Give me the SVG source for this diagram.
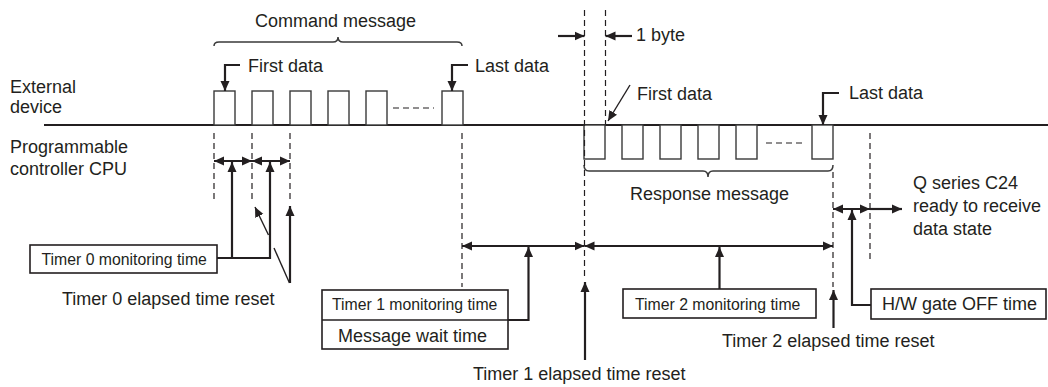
<svg xmlns="http://www.w3.org/2000/svg" width="1048" height="387" viewBox="0 0 1048 387">
<style>
text{font-family:"Liberation Sans",Arial,sans-serif;fill:#231f20;font-size:18px}
.s{font-size:15.8px}
.base{stroke:#231f20;stroke-width:2.2;fill:none}
.pulse{stroke:#3a3a3a;stroke-width:1.4;fill:#fff}
.dash{stroke:#231f20;stroke-width:1.2;stroke-dasharray:6,4;fill:none}
.arr{stroke:#231f20;stroke-width:2.2;fill:none}
.thin{stroke:#231f20;stroke-width:1.4;fill:none}
.box{stroke:#231f20;stroke-width:1.6;fill:#fff}
.brace{stroke:#3a3a3a;stroke-width:1.5;fill:none}
</style>
<defs>
<marker id="ah" viewBox="0 0 10 10" refX="10" refY="5" markerWidth="10" markerHeight="10" markerUnits="userSpaceOnUse" orient="auto-start-reverse">
<path d="M0,0.5 L10,5 L0,9.5 z" fill="#231f20"/>
</marker>
</defs>

<g id="labels-left">
<text x="10" y="93">External</text>
<text x="10" y="113">device</text>
<text x="10" y="153">Programmable</text>
<text x="10" y="175">controller CPU</text>
</g>

<g id="baseline">
<line class="base" x1="44" y1="125" x2="1048" y2="125"/>
</g>

<g id="command-message">
<rect class="pulse" x="214" y="91" width="21" height="34"/>
<rect class="pulse" x="252" y="91" width="21" height="34"/>
<rect class="pulse" x="290" y="91" width="21" height="34"/>
<rect class="pulse" x="328" y="91" width="21" height="34"/>
<rect class="pulse" x="366" y="91" width="21" height="34"/>
<line class="dash" x1="393" y1="108" x2="434" y2="108"/>
<rect class="pulse" x="442" y="91" width="21" height="34"/>
<path class="brace" d="M214,46 Q214,42 219,42 L333,42 Q338,42 338,37 Q338,42 343,42 L457,42 Q462,42 462,46"/>
<text x="255" y="27">Command message</text>
</g>

<g id="response-message">
<rect class="pulse" x="584" y="125" width="21" height="34"/>
<rect class="pulse" x="622" y="125" width="21" height="34"/>
<rect class="pulse" x="660" y="125" width="21" height="34"/>
<rect class="pulse" x="698" y="125" width="21" height="34"/>
<rect class="pulse" x="736" y="125" width="21" height="34"/>
<line class="dash" x1="766" y1="143" x2="804" y2="143"/>
<rect class="pulse" x="812" y="125" width="21" height="34"/>
<path class="brace" d="M584,165 Q584,171 589,171 L703,171 Q708,171 708,177 Q708,171 713,171 L828,171 Q833,171 833,165"/>
<text x="630" y="200">Response message</text>
</g>

<g id="first-data-cmd">
<text x="248" y="72">First data</text>
</g>
<g id="last-data-cmd">
<text x="475" y="72">Last data</text>
</g>
<g id="one-byte">
<text x="636" y="41">1 byte</text>
</g>
<g id="first-data-resp">
<text x="637" y="100">First data</text>
</g>
<g id="last-data-resp">
<text x="849" y="99">Last data</text>
</g>

<g id="timer0-box">
<rect class="box" x="30" y="245" width="187" height="28"/>
<text class="s" x="41.5" y="265">Timer 0 monitoring time</text>
</g>
<g id="timer0-reset">
<text x="62" y="305">Timer 0 elapsed time reset</text>
</g>

<g id="timer1-box">
<rect class="box" x="322" y="290" width="186" height="59"/>
<line class="box" x1="322" y1="320" x2="508" y2="320"/>
<text class="s" x="332" y="310">Timer 1 monitoring time</text>
<text x="338" y="342">Message wait time</text>
</g>
<g id="timer1-reset">
<text x="473" y="380">Timer 1 elapsed time reset</text>
</g>

<g id="timer2-box">
<rect class="box" x="623" y="289" width="193" height="29"/>
<text class="s" x="635" y="310">Timer 2 monitoring time</text>
</g>
<g id="timer2-reset">
<text x="722" y="347">Timer 2 elapsed time reset</text>
</g>

<g id="hw-gate-box">
<rect class="box" x="871" y="289" width="175" height="30"/>
<text x="882" y="310">H/W gate OFF time</text>
</g>

<g id="ready-state">
<text x="913" y="189">Q series C24</text>
<text x="913" y="212">ready to receive</text>
<text x="913" y="235">data state</text>
</g>

<g id="connectors">
<!-- dashed guides -->
<line class="dash" x1="214" y1="133" x2="214" y2="203"/>
<line class="dash" x1="252" y1="133" x2="252" y2="203"/>
<line class="dash" x1="290" y1="133" x2="290" y2="203"/>
<line class="dash" x1="462" y1="133" x2="462" y2="287"/>
<line class="dash" x1="584.5" y1="10" x2="584.5" y2="277"/>
<line class="dash" x1="605.5" y1="10" x2="605.5" y2="124"/>
<line class="dash" x1="833" y1="172" x2="833" y2="287"/>
<line class="dash" x1="870" y1="133" x2="870" y2="263"/>

<!-- data pointers -->
<polyline class="arr" points="240,65 225,65 225,91" marker-end="url(#ah)"/>
<polyline class="arr" points="468,65 452,65 452,91" marker-end="url(#ah)"/>
<polyline class="arr" points="839,93 823,93 823,125" marker-end="url(#ah)"/>
<line class="thin" x1="630" y1="85" x2="608" y2="121" marker-end="url(#ah)"/>

<!-- 1 byte -->
<line class="arr" x1="558" y1="36" x2="584.5" y2="36" marker-end="url(#ah)"/>
<line class="arr" x1="632" y1="36" x2="605.5" y2="36" marker-end="url(#ah)"/>

<!-- timer 0 -->
<line class="arr" x1="214" y1="161" x2="252" y2="161" marker-start="url(#ah)" marker-end="url(#ah)"/>
<line class="arr" x1="252" y1="161" x2="290" y2="161" marker-start="url(#ah)" marker-end="url(#ah)"/>
<polyline class="arr" points="217,258 270,258 270,162" marker-end="url(#ah)"/>
<line class="arr" x1="232" y1="258" x2="232" y2="162" marker-end="url(#ah)"/>
<line class="thin" x1="268.5" y1="235" x2="255" y2="207" marker-end="url(#ah)"/>
<line class="thin" x1="274" y1="248" x2="289.5" y2="283"/>
<line class="arr" x1="290" y1="283" x2="290" y2="206" marker-end="url(#ah)"/>

<!-- timer 1 -->
<line class="arr" x1="462" y1="246" x2="584.5" y2="246" marker-start="url(#ah)" marker-end="url(#ah)"/>
<polyline class="arr" points="508,320 528.5,320 528.5,247" marker-end="url(#ah)"/>
<line class="arr" x1="585" y1="360" x2="585" y2="282" marker-end="url(#ah)"/>

<!-- timer 2 -->
<line class="arr" x1="584.5" y1="246" x2="833" y2="246" marker-start="url(#ah)" marker-end="url(#ah)"/>
<line class="arr" x1="719.5" y1="289" x2="719.5" y2="247" marker-end="url(#ah)"/>
<line class="arr" x1="833.5" y1="328" x2="833.5" y2="290" marker-end="url(#ah)"/>

<!-- H/W gate -->
<line class="arr" x1="833" y1="209" x2="870" y2="209" marker-start="url(#ah)" marker-end="url(#ah)"/>
<line class="arr" x1="870" y1="209" x2="902" y2="209" marker-end="url(#ah)"/>
<polyline class="arr" points="871,305 852,305 852,210" marker-end="url(#ah)"/>
</g>
</svg>
